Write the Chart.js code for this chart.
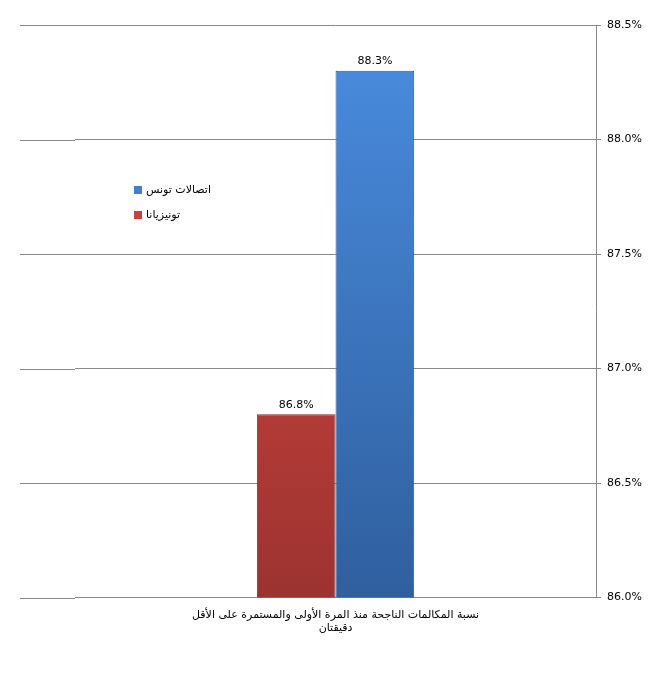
<!DOCTYPE html>
<html><head><meta charset="utf-8">
<script src="https://cdn.jsdelivr.net/npm/chart.js@4"></script>
<style>html,body{margin:0;padding:0;background:#fff}#w{width:664px;height:674px}</style>
</head><body><div id="w"><canvas id="c"></canvas></div>
<script>
const categories = [["نسبة المكالمات الناجحة منذ المرة الأولى والمستمرة على الأقل","دقيقتان"]];
const seriesNames = ["تونيزيانا","اتصالات تونس"];
const tunisianaValues = [86.8];
const tunisieTelecomValues = [88.3];
const yTicks = [86.0,86.5,87.0,87.5,88.0,88.5];

function grad(c1,c2){return ctx=>{const a=ctx.chart.chartArea;if(!a)return c1;const g=ctx.chart.ctx.createLinearGradient(0,a.top,0,a.bottom);g.addColorStop(0,c1);g.addColorStop(1,c2);return g;};}
const gridExt={id:'gx',beforeDatasetsDraw(ch){const c=ch.ctx,y=ch.scales.y,a=ch.chartArea;c.save();c.strokeStyle='#888';c.lineWidth=1;
yTicks.forEach(v=>{const p=Math.round(y.getPixelForValue(v))+0.5;c.beginPath();c.moveTo(20,p);c.lineTo(a.left,p);c.stroke();});c.restore();}};
const labelPlugin={id:'lbl',afterDatasetsDraw(ch){const c=ch.ctx;c.save();c.font='11px "DejaVu Sans", Arial';c.fillStyle='#000';c.textAlign='center';c.textBaseline='bottom';
ch.data.datasets.forEach((d,i)=>{ch.getDatasetMeta(i).data.forEach((b,j)=>{c.fillText(d.data[j].toFixed(1)+'%',b.x,b.y-4);});});
const items=[[seriesNames[1],'#3f7fd0'],[seriesNames[0],'#c8403c']];
c.textAlign='left';c.textBaseline='middle';
items.forEach((it,k)=>{const y=190+k*25;c.fillStyle=it[1];c.fillRect(134,y-4,8,8);c.fillStyle='#000';c.fillText(it[0],146,y);});
c.restore();}};
new Chart(document.getElementById('c'),{type:'bar',
data:{labels:categories,datasets:[
{label:seriesNames[0],data:tunisianaValues,backgroundColor:grad('#e04a44','#9c3330'),borderColor:'#8a2a28',borderWidth:1},
{label:seriesNames[1],data:tunisieTelecomValues,backgroundColor:grad('#4a8de0','#2f5f9e'),borderColor:'#2a548c',borderWidth:1}]},
options:{responsive:true,maintainAspectRatio:false,animation:false,
layout:{padding:{left:75,top:25,right:16,bottom:36}},
datasets:{bar:{categoryPercentage:0.302,barPercentage:1}},
plugins:{legend:{display:false},tooltip:{enabled:false}},
scales:{x:{grid:{display:false},border:{color:'#888'},ticks:{color:'#000',font:{size:11,family:'"DejaVu Sans", Arial'}}},
y:{position:'right',min:86,max:88.5,afterBuildTicks:a=>{a.ticks=yTicks.map(v=>({value:v}));},
grid:{color:'#888',drawTicks:true,tickLength:5},border:{color:'#888'},
ticks:{color:'#000',font:{size:11,family:'"DejaVu Sans", Arial'},padding:6,callback:v=>v.toFixed(1)+'%'}}}},
plugins:[gridExt,labelPlugin]});
</script></body></html>
